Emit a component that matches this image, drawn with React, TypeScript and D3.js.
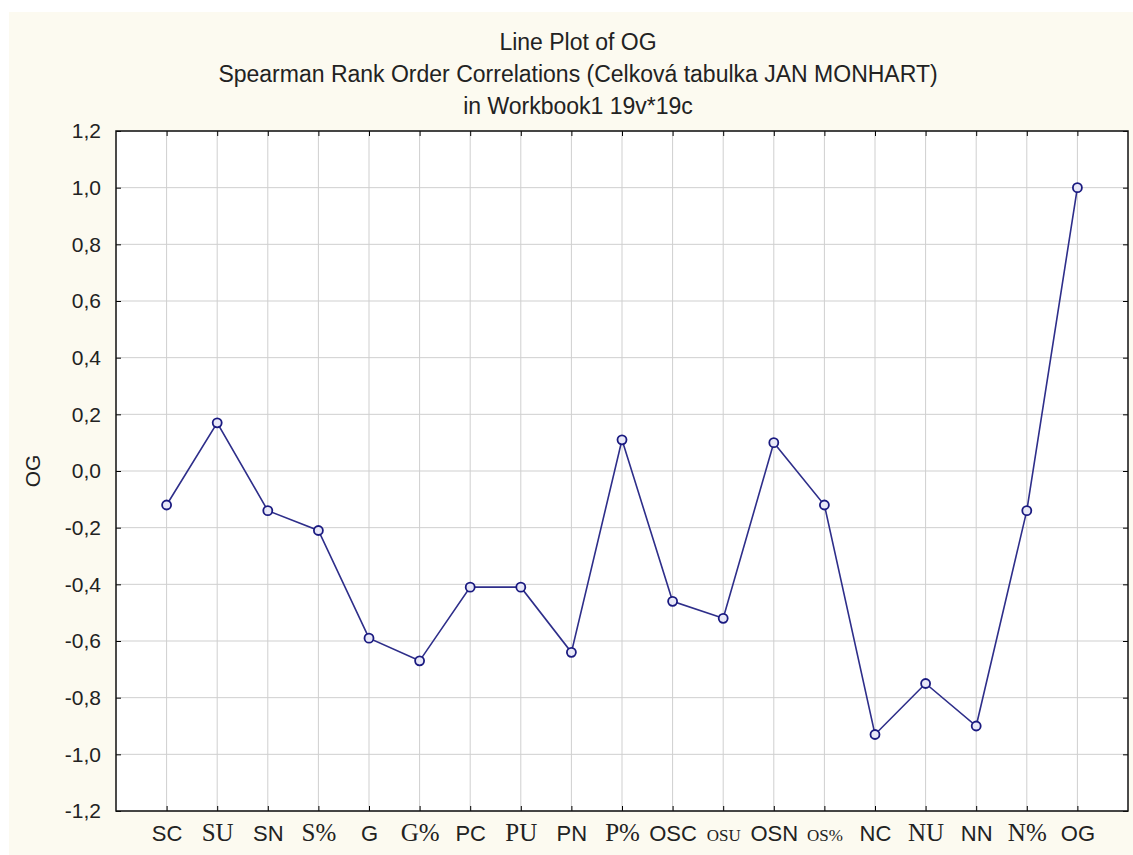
import React, { useEffect, useRef } from 'react';
import * as d3 from 'd3';

// variables (x categories) and Spearman correlation with OG
const categories = ['SC', 'SU', 'SN', 'S%', 'G', 'G%', 'PC', 'PU', 'PN', 'P%', 'OSC', 'OSU', 'OSN', 'OS%', 'NC', 'NU', 'NN', 'N%', 'OG'];
const ogValues = [-0.12, 0.17, -0.14, -0.21, -0.59, -0.67, -0.41, -0.41, -0.64, 0.11, -0.46, -0.52, 0.10, -0.12, -0.93, -0.75, -0.90, -0.14, 1.0];
// some labels in the original are set in a serif face
const serifLabels = ['SU', 'S%', 'G%', 'PU', 'P%', 'NU', 'N%'];
const smallSerifLabels = ['OSU', 'OS%'];
const yTicks = [-1.2, -1.0, -0.8, -0.6, -0.4, -0.2, 0.0, 0.2, 0.4, 0.6, 0.8, 1.0, 1.2];
const titleLines = [
  'Line Plot of OG',
  'Spearman Rank Order Correlations (Celková tabulka JAN MONHART)',
  'in Workbook1 19v*19c',
];

export default function App() {
  const ref = useRef<SVGSVGElement>(null);

  useEffect(() => {
    drawChart();
  }, []);

  function drawChart() {
    const svg = d3.select(ref.current);
    svg.selectAll('*').remove();

    const width = 1133;
    const height = 855;
    const margin = { top: 131, right: 5, bottom: 44, left: 116 };
    const sans = 'Arial, "Liberation Sans", sans-serif';
    const serif = '"Times New Roman", "Liberation Serif", serif';

    svg.append('rect')
      .attr('x', 9).attr('y', 12)
      .attr('width', width - 9).attr('height', height - 12)
      .attr('fill', '#fcfaf0');

    const w = width - margin.left - margin.right;
    const h = height - margin.top - margin.bottom;

    const x = d3.scalePoint<string>().domain(categories).range([0, w]).padding(1);
    const y = d3.scaleLinear().domain([-1.2, 1.2]).range([h, 0]);

    // titles
    svg.append('g')
      .selectAll('text')
      .data(titleLines)
      .join('text')
      .attr('x', 578)
      .attr('y', (d, i) => 50 + i * 32)
      .attr('text-anchor', 'middle')
      .style('font-family', sans)
      .style('font-size', '23px')
      .attr('fill', '#222')
      .text(d => d);

    const g = svg.append('g').attr('transform', 'translate(' + margin.left + ',' + margin.top + ')');

    g.append('rect').attr('width', w).attr('height', h).attr('fill', '#fff');

    // grid
    g.append('g')
      .selectAll('line')
      .data(categories)
      .join('line')
      .attr('x1', d => x(d)!).attr('x2', d => x(d)!)
      .attr('y1', 0).attr('y2', h)
      .attr('stroke', '#cfcfcf').attr('stroke-width', 1);

    g.append('g')
      .selectAll('line')
      .data(yTicks)
      .join('line')
      .attr('x1', 0).attr('x2', w)
      .attr('y1', d => y(d)).attr('y2', d => y(d))
      .attr('stroke', '#cfcfcf').attr('stroke-width', 1);

    const fmt = (d: number) => d3.format('.1f')(d).replace('.', ',').replace('−', '-');

    // axes, ticks inside
    const yAxis = d3.axisLeft(y).tickValues(yTicks).tickSize(-5).tickPadding(15).tickFormat(d => fmt(+d));
    const left = g.append('g').call(yAxis);
    left.select('.domain').remove();
    left.selectAll('text').style('font-family', sans).style('font-size', '21px').attr('fill', '#222');

    const right = g.append('g').attr('transform', 'translate(' + w + ',0)')
      .call(d3.axisRight(y).tickValues(yTicks).tickSize(-5).tickFormat(() => ''));
    right.select('.domain').remove();

    const bottom = g.append('g').attr('transform', 'translate(0,' + h + ')')
      .call(d3.axisBottom(x).tickSize(-5).tickPadding(14));
    bottom.select('.domain').remove();
    // same baseline for all labels
    bottom.selectAll('text')
      .attr('fill', '#222')
      .style('font-family', (d: any) => (serifLabels.includes(d) || smallSerifLabels.includes(d)) ? serif : sans)
      .style('font-size', (d: any) => serifLabels.includes(d) ? '25px' : smallSerifLabels.includes(d) ? '17px' : '22px')
      .attr('dy', '16px');

    const top = g.append('g')
      .call(d3.axisTop(x).tickSize(-5).tickFormat(() => ''));
    top.select('.domain').remove();

    g.selectAll('.tick line').attr('stroke', '#000');

    // frame
    g.append('rect').attr('width', w).attr('height', h)
      .attr('fill', 'none').attr('stroke', '#111').attr('stroke-width', 1.5);

    // line and markers
    const pts = categories.map((c, i) => ({ c, v: ogValues[i] }));
    const line = d3.line<{ c: string, v: number }>()
      .x(d => x(d.c)!)
      .y(d => y(d.v));

    g.append('path')
      .datum(pts)
      .attr('d', line)
      .attr('fill', 'none')
      .attr('stroke', '#2e2e8a')
      .attr('stroke-width', 1.6);

    g.append('g')
      .selectAll('circle')
      .data(pts)
      .join('circle')
      .attr('cx', d => x(d.c)!)
      .attr('cy', d => y(d.v))
      .attr('r', 4.5)
      .attr('fill', '#e8e8f8')
      .attr('stroke', '#1a1a80')
      .attr('stroke-width', 1.8);

    // y axis title
    svg.append('text')
      .attr('transform', 'translate(40,' + (margin.top + h / 2) + ') rotate(-90)')
      .attr('text-anchor', 'middle')
      .style('font-family', sans)
      .style('font-size', '21px')
      .attr('fill', '#222')
      .text('OG');
  }

  return (
    <div style={{ position: 'absolute', left: 0, top: 0 }}>
      <svg ref={ref} width={1133} height={855} style={{ display: 'block', background: '#fff' }}></svg>
    </div>
  );
}
